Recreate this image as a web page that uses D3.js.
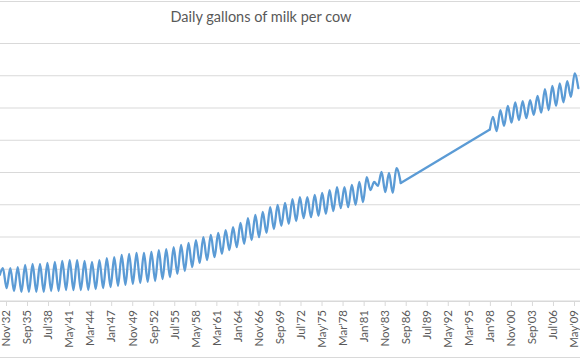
<!DOCTYPE html>
<html>
<head>
<meta charset="utf-8">
<script src="https://cdn.jsdelivr.net/npm/d3@7"></script>
<style>
  html, body { margin: 0; padding: 0; background: #fff; }
  svg { display: block; }
</style>
</head>
<body>
<svg id="chart" width="580" height="359"></svg>
<script>
// ---------------- DATA ----------------
const title = "Daily gallons of milk per cow";

// Era 1: 1932 - 1985 (annual peaks in June, troughs in December)
const startPoint1 = { year: 1932, month: 1, value: 0.81 };
const peakYears1 = d3.range(1932, 1986);
const peaks1 = [1.02, 1.02, 1.05, 1.12, 1.15, 1.15, 1.18, 1.21, 1.24, 1.27,
                1.27, 1.24, 1.21, 1.27, 1.33, 1.36, 1.43, 1.46, 1.49, 1.49,
                1.52, 1.58, 1.61, 1.67, 1.74, 1.80, 1.89, 1.98, 2.05, 2.11,
                2.20, 2.29, 2.42, 2.57, 2.67, 2.76, 2.91, 2.98, 3.04, 3.16,
                3.22, 3.22, 3.29, 3.35, 3.44, 3.53, 3.53, 3.60, 3.69, 3.84,
                3.69, 4.00, 3.97, 4.12];
const troughYears1 = d3.range(1932, 1985);
const troughs1 = [0.40, 0.31, 0.28, 0.28, 0.28, 0.28, 0.31, 0.31, 0.34, 0.34,
                  0.34, 0.34, 0.37, 0.40, 0.43, 0.47, 0.50, 0.53, 0.56, 0.59,
                  0.62, 0.68, 0.74, 0.84, 0.93, 1.05, 1.18, 1.27, 1.36, 1.46,
                  1.58, 1.67, 1.77, 1.89, 1.98, 2.11, 2.23, 2.33, 2.39, 2.48,
                  2.57, 2.60, 2.64, 2.70, 2.79, 2.88, 2.91, 2.98, 3.07, 3.44,
                  3.57, 3.38, 3.35];
const endPoint1 = { year: 1986, month: 1, value: 3.66 };

// Era 2: 1998 - 2009
const startPoint2 = { year: 1998, month: 1, value: 5.32 };
const peakYears2 = d3.range(1998, 2010);
const peaks2 = [5.71, 5.92, 6.05, 6.16, 6.20, 6.23, 6.36, 6.57, 6.67, 6.75, 6.82, 7.06];
const troughYears2 = d3.range(1998, 2010);
const troughs2 = [5.27, 5.43, 5.53, 5.61, 5.67, 5.77, 5.84, 5.92, 6.05, 6.16, 6.33, 6.60];

const peakMonth = 6, troughMonth = 12;

// axis ticks: every 34 months from Nov 1932 to May 2009
const monthNames = ["Jan","Feb","Mar","Apr","May","Jun","Jul","Aug","Sep","Oct","Nov","Dec"];
const tickLabels = ["Nov'32","Sep'35","Jul'38","May'41","Mar'44","Jan'47","Nov'49","Sep'52",
  "Jul'55","May'58","Mar'61","Jan'64","Nov'66","Sep'69","Jul'72","May'75","Mar'78","Jan'81",
  "Nov'83","Sep'86","Jul'89","May'92","Mar'95","Jan'98","Nov'00","Sep'03","Jul'06","May'09"];
const yGridValues = [0, 1, 2, 3, 4, 5, 6, 7, 8];

// ---------------- BUILD SERIES ----------------
const toDate = (y, m) => new Date(y, m - 1, 1);
const seg1 = [];
seg1.push({ date: toDate(startPoint1.year, startPoint1.month), value: startPoint1.value });
peakYears1.forEach((yr, i) => {
  seg1.push({ date: toDate(yr, peakMonth), value: peaks1[i] });
  if (i < troughs1.length) seg1.push({ date: toDate(troughYears1[i], troughMonth), value: troughs1[i] });
});
seg1.push({ date: toDate(endPoint1.year, endPoint1.month), value: endPoint1.value });
const seg2 = [];
seg2.push({ date: toDate(startPoint2.year, startPoint2.month), value: startPoint2.value });
peakYears2.forEach((yr, i) => {
  seg2.push({ date: toDate(yr, peakMonth), value: peaks2[i] });
  seg2.push({ date: toDate(troughYears2[i], troughMonth), value: troughs2[i] });
});
const gapSeg = [seg1[seg1.length - 1], seg2[0]];

const tickDates = tickLabels.map(l => {
  const m = monthNames.indexOf(l.slice(0, 3));
  const yy = +l.slice(4);
  return toDate(yy < 20 ? 2000 + yy : 1900 + yy, m + 1);
});

// ---------------- DRAW ----------------
const W = 580, H = 359;
const svg = d3.select("#chart");

const x = d3.scaleTime()
  .domain([tickDates[0], tickDates[tickDates.length - 1]])
  .range([6, 574]);
const y = d3.scaleLinear().domain([0, 8]).range([301, 43]);

// chart border lines (top / bottom)
svg.append("line").attr("x1", 0).attr("x2", W).attr("y1", 1.5).attr("y2", 1.5)
  .attr("stroke", "#d9d9d9").attr("stroke-width", 1);
svg.append("line").attr("x1", 0).attr("x2", W).attr("y1", 357.5).attr("y2", 357.5)
  .attr("stroke", "#d9d9d9").attr("stroke-width", 1);

// gridlines
const grid = svg.append("g")
  .call(d3.axisLeft(y).tickValues(yGridValues).tickSize(-W).tickFormat(""));
grid.select(".domain").remove();
grid.selectAll(".tick line").attr("stroke", "#d9d9d9").attr("stroke-width", 1);

// x axis
const xAxis = svg.append("g").attr("transform", `translate(0,${y(0)})`)
  .call(d3.axisBottom(x).tickValues(tickDates).tickSize(5)
    .tickFormat((d, i) => tickLabels[i]));
xAxis.select(".domain").attr("stroke", "#d9d9d9").attr("d", `M0,0H${W}`);
xAxis.selectAll(".tick line").attr("stroke", "#d9d9d9");
xAxis.selectAll(".tick text")
  .attr("transform", "rotate(-90)")
  .attr("x", -9).attr("y", 0).attr("dy", "0.33em")
  .style("text-anchor", "end")
  .attr("fill", "#595959")
  .style("font-family", "Lato, 'Open Sans', sans-serif")
  .style("font-size", "11.5px");

// line
const smooth = d3.line().curve(d3.curveMonotoneX).x(d => x(d.date)).y(d => y(d.value));
const straight = d3.line().x(d => x(d.date)).y(d => y(d.value));
const lineG = svg.append("g")
  .attr("fill", "none")
  .attr("stroke", "#5B9BD5")
  .attr("stroke-width", 2.3)
  .attr("stroke-linejoin", "round")
  .attr("stroke-linecap", "round");
lineG.append("path").datum(seg1).attr("d", smooth);
lineG.append("path").datum(gapSeg).attr("d", straight);
lineG.append("path").datum(seg2).attr("d", smooth);

// title
svg.append("text")
  .attr("x", 261).attr("y", 22)
  .attr("text-anchor", "middle")
  .attr("fill", "#595959")
  .style("font-family", "Lato, 'Open Sans', sans-serif")
  .style("font-size", "14.5px")
  .text(title);
</script>
</body>
</html>
